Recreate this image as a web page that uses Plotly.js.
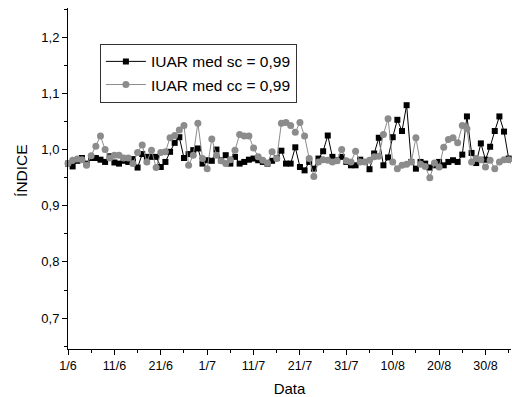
<!DOCTYPE html>
<html>
<head>
<meta charset="utf-8">
<script src="https://cdn.plot.ly/plotly-3.0.1.min.js"></script>
<style>html,body{margin:0;padding:0;background:#fff}#chart{width:512px;height:397px}</style>
</head>
<body>
<div id="chart"></div>
<script>
// Day index from 1/6
const sc = [0.975,0.970,0.980,0.985,0.975,0.985,0.985,0.982,0.978,0.988,
0.977,0.975,0.980,0.978,0.983,0.968,0.992,0.987,0.987,0.987,
0.969,0.978,0.996,1.012,1.022,0.985,0.992,0.999,1.002,0.975,
0.981,0.980,1.000,0.981,0.990,0.975,0.987,0.975,0.978,0.982,
0.984,0.981,0.978,0.975,0.980,0.985,0.998,0.975,0.975,1.004,
0.969,0.963,0.978,0.966,0.984,0.997,1.025,0.987,0.981,0.987,
0.978,0.972,0.972,0.982,0.978,0.965,0.993,1.021,0.972,0.986,
1.022,1.053,1.033,1.079,0.978,0.966,0.978,0.975,0.968,0.972,
0.978,0.972,0.978,0.981,0.978,0.991,1.059,0.994,0.976,1.011,
0.982,1.005,1.033,1.059,1.032,0.984,0.975];
const cc = [0.975,0.981,0.983,0.982,0.972,0.989,1.006,1.024,1.000,0.985,
0.990,0.990,0.985,0.985,0.975,0.995,1.008,0.978,0.999,0.968,
0.995,0.996,1.021,1.025,1.035,1.043,0.972,0.990,1.047,0.984,
0.966,1.019,0.990,0.980,0.975,0.982,0.999,1.027,1.024,1.024,
1.003,0.987,0.981,0.976,0.996,0.984,1.047,1.048,1.043,1.031,
1.048,1.024,0.984,0.952,0.978,0.982,0.981,0.978,0.980,1.000,
0.980,0.978,0.997,0.978,0.978,0.981,0.987,0.988,1.027,1.055,
0.978,0.966,0.972,0.974,0.978,1.021,0.974,0.970,0.950,0.976,
0.969,1.004,1.018,1.021,1.012,1.043,1.037,0.978,0.984,0.982,
0.969,0.981,0.966,0.978,0.982,0.982,0.968];
const days = sc.map((_, i) => i);
const tickDays = [0,10,20,30,40,50,60,70,80,90];
const tickLabels = ['1/6','11/6','21/6','1/7','11/7','21/7','31/7','10/8','20/8','30/8'];
const seriesNames = ['IUAR med sc = 0,99','IUAR med cc = 0,99'];
const yTitle = 'ÍNDICE';
const xTitle = 'Data';

const font = 'Liberation Sans, Arial, sans-serif';
const traces = [
  {x: days, y: sc, name: seriesNames[0], type: 'scatter', mode: 'lines+markers',
   line: {color: '#000', width: 1}, marker: {symbol: 'square', size: 6, color: '#000'}, cliponaxis: false},
  {x: days, y: cc, name: seriesNames[1], type: 'scatter', mode: 'lines+markers',
   line: {color: '#8c8c8c', width: 1}, marker: {symbol: 'circle', size: 7, color: '#8c8c8c'}, cliponaxis: false}
];
const layout = {
  width: 512, height: 397,
  margin: {l: 68, r: 1, t: 8, b: 48},
  paper_bgcolor: '#fff', plot_bgcolor: '#fff',
  separators: ',.',
  font: {family: font, color: '#000', size: 12.5},
  showlegend: true,
  legend: {x: 0.072, y: 0.895, xanchor: 'left', yanchor: 'top',
    bordercolor: '#333', borderwidth: 1, bgcolor: '#fff',
    font: {family: font, size: 15.5, color: '#000'}, itemwidth: 40, tracegroupgap: 0},
  xaxis: {range: [0, 95.5], showgrid: false, zeroline: false, showline: true, linecolor: '#000', linewidth: 1,
    tickmode: 'array', tickvals: tickDays, ticktext: tickLabels, ticks: 'outside', ticklen: 5, tickcolor: '#000',
    minor: {dtick: 5, tick0: 0, ticks: 'outside', ticklen: 3, tickcolor: '#000', showgrid: false},
    tickfont: {family: font, size: 12.5},
    title: {text: xTitle, font: {family: font, size: 15}, standoff: 12}},
  yaxis: {range: [0.645, 1.252], showgrid: false, zeroline: false, showline: true, linecolor: '#000', linewidth: 1,
    dtick: 0.1, tick0: 0, tickformat: '.1f', ticks: 'outside', ticklen: 5, tickcolor: '#000',
    minor: {dtick: 0.05, ticks: 'outside', ticklen: 3, tickcolor: '#000', showgrid: false},
    tickfont: {family: font, size: 13}},
  annotations: [{text: yTitle, textangle: -90, xref: 'paper', yref: 'paper',
    x: -0.104, y: 0.525, xanchor: 'center', yanchor: 'middle', showarrow: false,
    font: {family: font, size: 15.5, color: '#000'}}]
};
Plotly.newPlot('chart', traces, layout, {displayModeBar: false, staticPlot: true});
</script>
</body>
</html>
